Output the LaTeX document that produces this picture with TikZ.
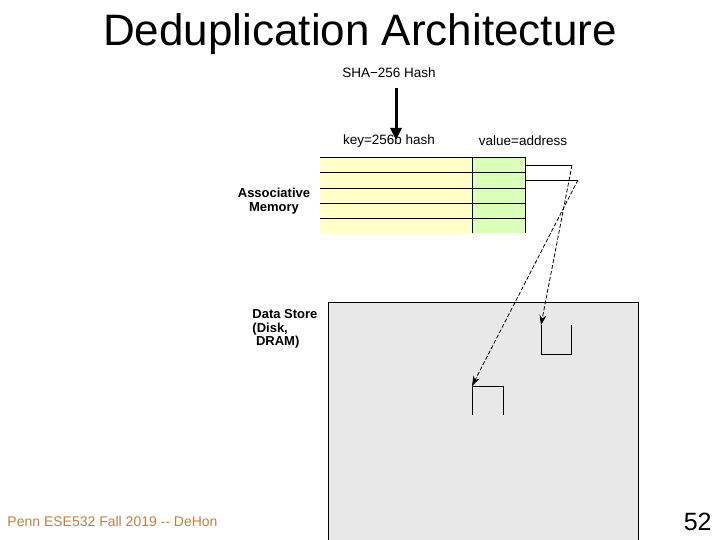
\documentclass[tikz,border=0pt]{standalone}
\usepackage{fontspec}
\setmainfont{Liberation Sans}
\usepackage{xcolor}
\usetikzlibrary{arrows.meta}
\definecolor{keyyellow}{HTML}{FFFFC6}
\definecolor{valgreen}{HTML}{DAFFB6}
\definecolor{storegray}{HTML}{E8E8E8}
\definecolor{footbrown}{HTML}{C08040}
\tikzstyle{small text}=[
        inner sep = 0pt,
        font = \fontsize{13.5}{15}\selectfont
    ]
\tikzstyle{side text}=[
        inner sep = 0pt,
        align = left,
        font = \fontsize{13}{13.5}\selectfont\bfseries
    ]
\tikzstyle{pointer}=[
        line width = 0.8pt,
        dash pattern = on 4pt off 2pt,
        -{Stealth[length=10pt, width=7pt]}
    ]

\begin{document}
\begin{tikzpicture}[x=1pt, y=-1pt, line width=0.9pt]
        \useasboundingbox (0,0) rectangle (720,540);

        \node[font=\fontsize{44}{48}\selectfont] (title) at (360,34) {Deduplication Architecture};

        \node[small text] (hash) at (389,73) {SHA−256 Hash};
        \node[small text] (key) at (389,141) {key=256b hash};
        \node[small text] (value) at (523,141) {value=address};
        \node[side text, align=center] (assoc) at (274,201) {Associative\\Memory};
        \node[side text] (store) [anchor=north west] at (252,309) {Data Store\\(Disk,\\\ DRAM)};
        \node[small text] (chunk) at (505,369) {chunk};

        \fill[keyyellow] (320,157) rectangle (472,233);
        \fill[valgreen] (472,157) rectangle (525,233);
        \foreach \y in {157,172,188,203,218}
            \draw (320,\y) -- (525,\y);
        \draw (472,157) -- (472,233);
        \draw (525,157) -- (525,233);

        \fill[storegray] (328,302) rectangle (638,540);
        \draw (328,540) -- (328,302) -- (638,302) -- (638,540);

        \coordinate (hash in) at (396,88);
        \coordinate (key in) at (396,140);
        \draw[line width=3pt, -{Triangle[length=12pt, width=11pt]}] (hash in) -- (key in);

        \coordinate (row1) at (525,165);
        \coordinate (bend1) at (572,165);
        \coordinate (chunk1) at (541,325);
        \coordinate (row2) at (525,180);
        \coordinate (bend2) at (578,180);
        \coordinate (chunk2) at (472,386);

        \draw (row1) -- (bend1);
        \draw[pointer] (bend1) -- (chunk1);
        \draw (row2) -- (bend2);
        \draw[pointer] (bend2) -- (chunk2);

        \draw (chunk1) |- (571,354) -- (571,325);
        \draw (472,415) |- (503,386) -- (503,415);

        \node[font=\fontsize{14}{16}\selectfont, text=footbrown, anchor=west, inner sep=0pt] (foot) at (7,521) {Penn ESE532 Fall 2019 -{}- DeHon};
        \node[font=\fontsize{25}{28}\selectfont, anchor=east, inner sep=0pt] (page) at (712,522) {52};
    \end{tikzpicture}
\end{document}
